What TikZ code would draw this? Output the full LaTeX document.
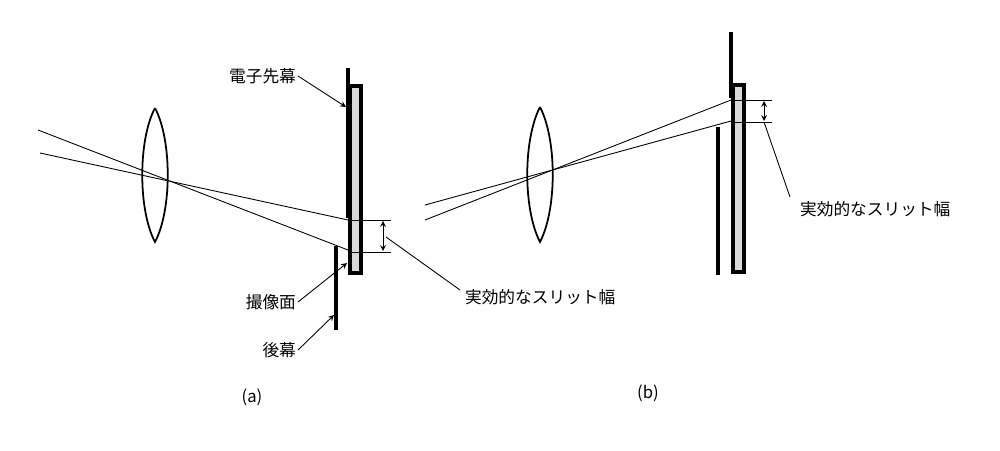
\documentclass[tikz,border=0pt]{standalone}
\usepackage{fontspec}
\setmainfont{Noto Sans CJK JP}
\begin{document}
\begin{tikzpicture}[x=0.02cm,y=-0.02cm,
  thin line/.style={line width=0.5pt},
  curtain/.style={line width=2.2pt},
  sensor/.style={fill=black!15,draw,line width=1.8pt},
  lensshape/.style={draw,line width=1pt},
  lbl/.style={font=\fontsize{9.5}{10}\selectfont,inner sep=1pt},
  dim/.style={<->,>=stealth,line width=0.5pt},
  ptr/.style={->,>=stealth,line width=0.5pt}]
\useasboundingbox (0,0) rectangle (1000,450);
% ---- (a)
\draw[lensshape] (155,108) .. controls (138,140) and (138,210) .. (155,242) .. controls (172,210) and (172,140) .. (155,108);
\draw[curtain] (348,68) -- (348,218);
\draw[sensor] (350,86) rectangle (361,273);
\draw[curtain] (336,246) -- (336,330);
\draw[thin line] (38,130) -- (348,250);
\draw[thin line] (40,153) -- (348,220);
\draw[thin line] (351,220) -- (391,220);
\draw[thin line] (351,252) -- (391,252);
\draw[dim] (383,221) -- (383,251);
\node[lbl,anchor=west] (ta) at (463,297) {実効的なスリット幅};
\draw[thin line] (386,237) -- (460,290);
\node[lbl,anchor=east] (front) at (298,76) {電子先幕};
\draw[ptr] (front.east) -- (346,107);
\node[lbl,anchor=east] (img) at (298,302) {撮像面};
\draw[ptr] (img.east) -- (347,263);
\node[lbl,anchor=east] (rear) at (298,350) {後幕};
\draw[ptr] (rear.east) -- (334,315);
\node[lbl] (la) at (252,397) {(a)};
% ---- (b)
\draw[lensshape] (540,107) .. controls (523,140) and (523,209) .. (540,242) .. controls (557,209) and (557,140) .. (540,107);
\draw[curtain] (731,32) -- (731,98);
\draw[sensor] (733,85) rectangle (744,272);
\draw[curtain] (718,127) -- (718,275);
\draw[thin line] (425,220) -- (731,100);
\draw[thin line] (425,205) -- (731,121);
\draw[thin line] (734,100) -- (772,100);
\draw[thin line] (734,122) -- (772,122);
\draw[dim] (764,101) -- (764,121);
\node[lbl,anchor=west] (tb) at (798,209) {実効的なスリット幅};
\draw[thin line] (764,122) -- (790,197);
\node[lbl] (lb) at (648,393) {(b)};
\end{tikzpicture}
\end{document}
